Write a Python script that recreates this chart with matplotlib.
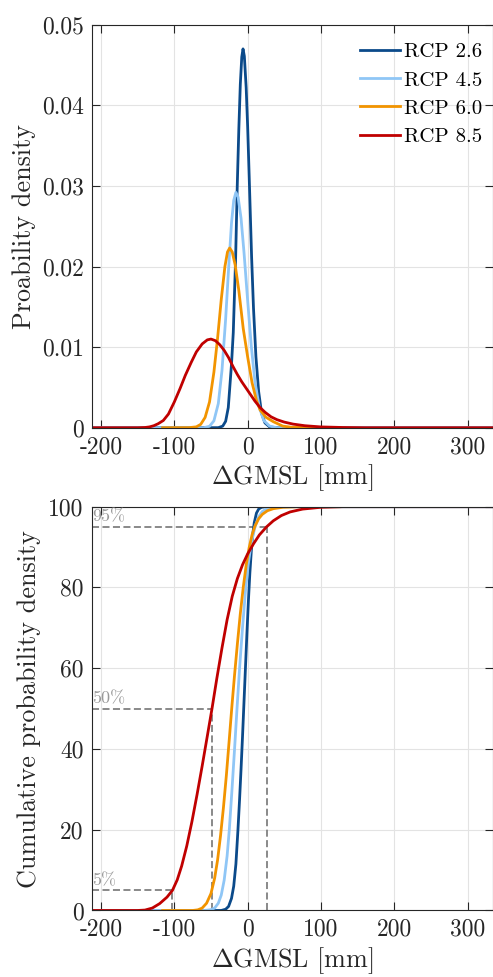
import matplotlib
matplotlib.use('Agg')
import matplotlib.pyplot as plt

plt.rcParams['font.family'] = 'serif'
plt.rcParams['font.serif'] = ['cmr10']
plt.rcParams['mathtext.fontset'] = 'cm'
plt.rcParams['axes.unicode_minus'] = False

# ---- data ----
labels = ['RCP 2.6', 'RCP 4.5', 'RCP 6.0', 'RCP 8.5']
colors = ['#0b4a8a', '#8fc6f6', '#f29400', '#c00000']

# probability density [1/mm]
pdf_x_26 = [-215, -40, -34, -30, -26.4, -22, -19.6, -16.4, -14.2, -12, -10, -8, -6.3, -4.5, -2, 0,
            2.2, 5.4, 8, 11.3, 15, 19, 23.6, 30, 40, 340]
pdf_y_26 = [0, 0.00001, 0.0002, 0.0008, 0.0025, 0.0079, 0.0118, 0.021, 0.0299, 0.0371, 0.0426, 0.046,
            0.047, 0.0461, 0.0422, 0.0374, 0.0309, 0.0212, 0.0148, 0.0088, 0.0045, 0.0018, 0.0006,
            0.0001, 0, 0]
pdf_x_45 = [-215, -60, -52, -46, -40, -35, -30, -26, -22, -19, -16, -13, -9, -5, 0, 5, 10, 16, 22,
            30, 40, 340]
pdf_y_45 = [0, 0, 0.00018, 0.00086, 0.003, 0.0071, 0.0135, 0.0197, 0.0254, 0.0282, 0.0292, 0.0286,
            0.026, 0.0218, 0.0158, 0.0101, 0.0057, 0.0025, 0.0009, 0.0002, 0, 0]
pdf_x_60 = [-116, -80, -70, -64, -58, -52, -46, -41, -36, -31, -27.5, -24.5, -21, -17, -12, -6, 0,
            6, 12, 17, 25, 35, 48, 60, 90, 125]
pdf_y_60 = [0, 0.00001, 0.00011, 0.00042, 0.00128, 0.0032, 0.0069, 0.0111, 0.0159, 0.02, 0.0218,
            0.0223, 0.0218, 0.0202, 0.017, 0.0123, 0.0088, 0.0056, 0.0034, 0.0022, 0.0013, 0.00075,
            0.0002, 0.00006, 0, 0]
pdf_x_85 = [-215, -150, -140, -134, -128, -122, -115, -108, -100, -92, -85, -77, -70, -62, -55, -50,
            -44, -38, -32, -26, -20, -14, -8, -2, 4, 10, 17, 24, 32, 40, 50, 62, 78, 100, 130, 160, 340]
pdf_y_85 = [0, 0, 0.00003, 0.0001, 0.00025, 0.0005, 0.0009, 0.0017, 0.0032, 0.0049, 0.0065, 0.0081,
            0.0094, 0.0104, 0.0109, 0.011, 0.0108, 0.0103, 0.0096, 0.0087, 0.0076, 0.0066, 0.0057,
            0.0049, 0.0041, 0.0033, 0.0025, 0.0019, 0.00135, 0.001, 0.0007, 0.00045, 0.00025, 0.0001,
            0.00003, 0, 0]

# cumulative probability [%]
cdf_x_26 = [-215, -36, -30, -26, -22, -19, -16, -13.2, -11, -9, -7, -5, -3, -1, 1, 3, 5, 7, 9, 12,
            15, 19, 25, 340]
cdf_y_26 = [0, 0, 0.3, 1.0, 3.0, 6.0, 11.5, 20, 27.5, 35, 43, 51.5, 60, 68.5, 76.5, 83.5, 89, 93.2,
            96, 98.4, 99.4, 99.85, 100, 100]
cdf_x_45 = [-215, -62, -56, -50, -45, -40, -36, -32, -28, -25, -21.5, -18, -14.5, -11, -7, -3, 1, 5,
            10, 15, 20, 27, 35, 45, 340]
cdf_y_45 = [0, 0, 0.05, 0.2, 0.6, 1.8, 3.8, 7.5, 13.5, 20, 29.5, 39.5, 50, 60, 70, 79, 86, 91, 95,
            97.5, 98.8, 99.6, 99.9, 100, 100]
cdf_x_60 = [-116, -75, -68, -62, -56, -50, -45, -41, -37, -33, -29, -25, -21.5, -18, -14, -10, -6,
            -2, 2, 6, 10, 15, 20, 27, 35, 48, 70, 125]
cdf_y_60 = [0, 0, 0.15, 0.6, 1.8, 4.2, 8, 12.5, 18.5, 25.5, 33.5, 42.5, 50.5, 58, 66, 73.5, 80, 85.5,
            89.8, 93, 95.2, 97, 98.1, 99, 99.5, 99.85, 100, 100]
cdf_x_85 = [-215, -150, -140, -130, -120, -110, -102.5, -96, -90, -83, -76, -69, -62, -55, -48.6,
            -42, -35, -28, -21, -14, -7, 0, 8, 16, 25.8, 35, 46, 58, 75, 100, 130, 340]
cdf_y_85 = [0, 0, 0.1, 0.6, 1.7, 3.3, 5.0, 7.6, 11, 16, 22, 28.7, 35.8, 43.2, 50, 57.5, 65, 72,
            77.8, 82.2, 85.6, 88.3, 90.8, 93, 95.0, 96.5, 97.8, 98.7, 99.4, 99.85, 100, 100]

# RCP 8.5 percentiles
pct_levels = [5, 50, 95]
pct_values = [-102.5, -48.6, 25.8]
pct_text = ['5%', '50%', '95%']

xticks = [-200, -100, 0, 100, 200, 300]
xtick_labels = ['-200', '-100', '0', '100', '200', '300']
pdf_ticks = [0, 0.01, 0.02, 0.03, 0.04, 0.05]
pdf_tick_labels = ['0', '0.01', '0.02', '0.03', '0.04', '0.05']
cdf_ticks = [0, 20, 40, 60, 80, 100]

pdf_x = [pdf_x_26, pdf_x_45, pdf_x_60, pdf_x_85]
pdf_y = [pdf_y_26, pdf_y_45, pdf_y_60, pdf_y_85]
cdf_x = [cdf_x_26, cdf_x_45, cdf_x_60, cdf_x_85]
cdf_y = [cdf_y_26, cdf_y_45, cdf_y_60, cdf_y_85]

xmin, xmax = -212.3, 334

fig = plt.figure(figsize=(4.93, 9.77), dpi=100)
ax1 = fig.add_axes([0.1866, 0.5622, 0.8124, 0.4125])
ax2 = fig.add_axes([0.1866, 0.0681, 0.8124, 0.4133])

for i in range(4):
    ax1.plot(pdf_x[i], pdf_y[i], color=colors[i], lw=2, label=labels[i])
    ax2.plot(cdf_x[i], cdf_y[i], color=colors[i], lw=2)

# dashed percentile guides
for lev, val, txt in zip(pct_levels, pct_values, pct_text):
    ax2.plot([xmin, val], [lev, lev], color='#808080', lw=1.3, ls=(0, (3.9, 1.9)), zorder=1.5)
    ax2.plot([val, val], [0, lev], color='#808080', lw=1.3, ls=(0, (3.9, 1.9)), zorder=1.5)
    ax2.text(xmin + 0.5, lev + 1.3, txt, color='#999999', fontsize=13, va='baseline', ha='left')

for ax in (ax1, ax2):
    ax.set_xlim(xmin, xmax)
    ax.set_xticks(xticks)
    ax.set_xticklabels(xtick_labels)
    ax.grid(True, color='#e3e3e3', lw=0.8)
    ax.set_axisbelow(True)
    ax.tick_params(direction='in', length=5.8, width=0.8, top=True, right=True,
                   labelsize=17, pad=6, colors='#262626')
    for s in ax.spines.values():
        s.set_linewidth(0.8)
        s.set_color('#262626')
    ax.set_xlabel(r'$\Delta$GMSL [mm]', fontsize=18.8, color='#262626', labelpad=3)

ax1.set_ylim(0, 0.05)
ax1.set_yticks(pdf_ticks)
ax1.set_yticklabels(pdf_tick_labels)
ax1.set_ylabel('Proability density', fontsize=18.8, color='#262626', labelpad=4)

ax2.set_ylim(0, 100)
ax2.set_yticks(cdf_ticks)
ax2.set_ylabel('Cumulative probability density', fontsize=18.8, color='#262626', labelpad=5)

ax1.legend(loc='upper right', bbox_to_anchor=(0.975, 0.955), frameon=False, fontsize=15,
           handlelength=1.9, handletextpad=0.2, labelspacing=0.46, borderpad=0, borderaxespad=0)

fig.savefig('out.png', dpi=100)
